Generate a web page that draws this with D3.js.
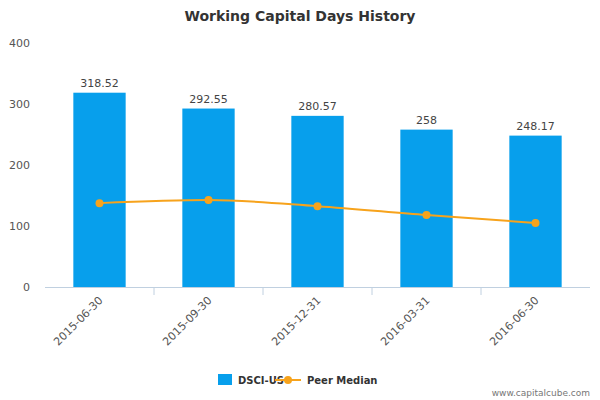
<!DOCTYPE html>
<html><head><meta charset="utf-8">
<script src="https://cdn.jsdelivr.net/npm/d3@7"></script>
<style>body{margin:0;background:#fff}text{font-family:"DejaVu Sans",sans-serif}</style>
</head><body><svg id="c" width="600" height="400"></svg>
<script>
const categories=["2015-06-30","2015-09-30","2015-12-31","2016-03-31","2016-06-30"];
const dsciValues=[318.52,292.55,280.57,258,248.17];
const dsciLabels=["318.52","292.55","280.57","258","248.17"];
const peerMedian=[137.5,142.5,132.5,118,105];
const yTicks=[0,100,200,300,400];

const svg=d3.select("#c");
const L=45,R=590,T=43,B=287;
const x=d3.scaleBand().domain(categories).range([L,R]).paddingInner(0.52).paddingOuter(0.26);
const xc=d3.scaleBand().domain(categories).range([L,R]);
const y=d3.scaleLinear().domain([0,400]).range([B,T]);

svg.append("text").attr("x",300).attr("y",21).attr("text-anchor","middle")
 .attr("font-size",14).attr("font-weight","bold").attr("fill","#333").text("Working Capital Days History");

yTicks.forEach(t=>svg.append("text").attr("x",30).attr("y",y(t)+4).attr("text-anchor","end")
 .attr("font-size",11).attr("fill","#555").text(t));

svg.append("line").attr("x1",L).attr("x2",R).attr("y1",B+0.5).attr("y2",B+0.5).attr("stroke","#c0d0e0");
categories.forEach((c,i)=>{
 if(i>0){const tx=xc(c);svg.append("line").attr("x1",tx).attr("x2",tx).attr("y1",B).attr("y2",B+8).attr("stroke","#c0d0e0");}
 const cx=xc(c)+xc.bandwidth()/2;
 svg.append("text").attr("transform",`translate(${cx+4},${B+14}) rotate(-45)`).attr("text-anchor","end")
  .attr("font-size",11).attr("fill","#555").text(c);
});

svg.selectAll("rect.bar").data(dsciValues).enter().append("rect")
 .attr("x",(d,i)=>x(categories[i])).attr("width",x.bandwidth())
 .attr("y",d=>y(d)).attr("height",d=>B-y(d)).attr("fill","#079fec");
svg.selectAll("text.lbl").data(dsciValues).enter().append("text")
 .attr("x",(d,i)=>x(categories[i])+x.bandwidth()/2).attr("y",d=>y(d)-6)
 .attr("text-anchor","middle").attr("font-size",11).attr("fill","#444").text((d,i)=>dsciLabels[i]);

const line=d3.line().x((d,i)=>xc(categories[i])+xc.bandwidth()/2).y(d=>y(d)).curve(d3.curveMonotoneX);
svg.append("path").attr("d",line(peerMedian)).attr("fill","none").attr("stroke","#f7a31c").attr("stroke-width",2);
svg.selectAll("circle.p").data(peerMedian).enter().append("circle")
 .attr("cx",(d,i)=>xc(categories[i])+xc.bandwidth()/2).attr("cy",d=>y(d)).attr("r",4).attr("fill","#f7a31c");

svg.append("rect").attr("x",218).attr("y",374).attr("width",14).attr("height",11).attr("fill","#079fec");
svg.append("text").attr("x",238).attr("y",384).attr("font-size",10).attr("font-weight","bold").attr("fill","#333").text("DSCI-US");
svg.append("line").attr("x1",275).attr("x2",301).attr("y1",380).attr("y2",380).attr("stroke","#f7a31c").attr("stroke-width",2);
svg.append("circle").attr("cx",288).attr("cy",380).attr("r",4).attr("fill","#f7a31c");
svg.append("text").attr("x",307).attr("y",384).attr("font-size",10).attr("font-weight","bold").attr("fill","#333").text("Peer Median");
svg.append("text").attr("x",590).attr("y",396).attr("text-anchor","end").attr("font-size",9).attr("fill","#777").text("www.capitalcube.com");
</script></body></html>
